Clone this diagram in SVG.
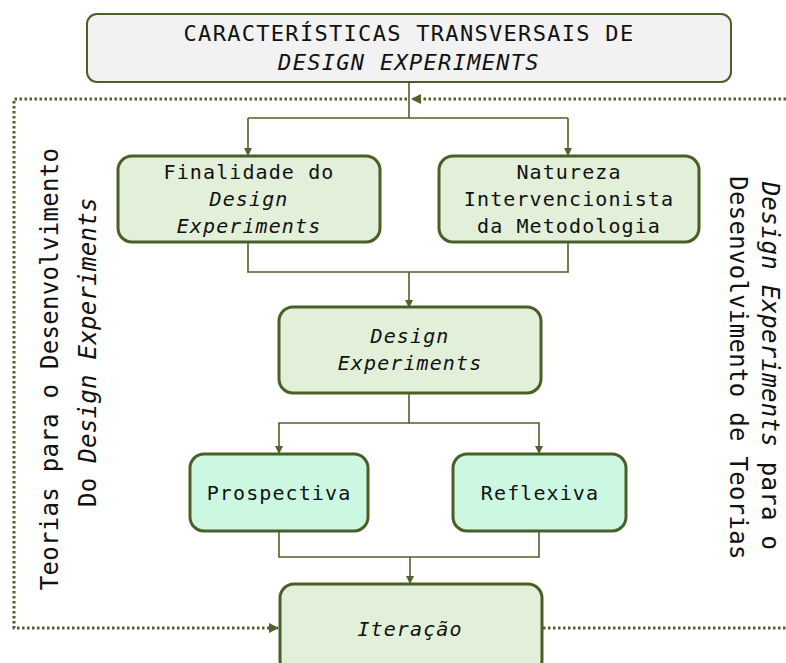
<svg xmlns="http://www.w3.org/2000/svg" width="786" height="663" viewBox="0 0 786 663">
<defs>
<marker id="arr" markerWidth="8" markerHeight="8" refX="7" refY="4" orient="auto" markerUnits="userSpaceOnUse">
<path d="M0,0 L8,4 L0,8 Z" fill="#4f6228"/>
</marker>
<marker id="arrB" markerWidth="10" markerHeight="10" refX="9" refY="5" orient="auto" markerUnits="userSpaceOnUse">
<path d="M0,0 L10,5 L0,10 Z" fill="#4f6228"/>
</marker>
<style>
.box{stroke:#4a5f26;stroke-width:3}
.g{fill:#e2efd9}
.m{fill:#ccf8e2}
.top{fill:#f2f2f2;stroke:#4a5f26;stroke-width:2}
.t{font-family:"DejaVu Sans Mono","Liberation Mono",monospace;font-size:20px;fill:#111;text-anchor:middle;letter-spacing:1.1px}
.tt{font-family:"DejaVu Sans Mono","Liberation Mono",monospace;font-size:22px;fill:#111;text-anchor:middle;letter-spacing:1.3px}
.side{font-family:"DejaVu Sans Mono","Liberation Mono",monospace;font-size:24px;fill:#111;text-anchor:middle;letter-spacing:0.3px}
.i{font-style:italic}
.c{fill:none;stroke:#4f6228;stroke-width:1.6}
.d{fill:none;stroke:#4f6228;stroke-width:3;stroke-dasharray:2.5 2.5}
</style>
</defs>
<g id="connectors">
<path class="c" d="M409,82 V118 M248,118 H568 M248,118 V155" marker-end="url(#arr)"/>
<path class="c" d="M568,118 V155" marker-end="url(#arr)"/>
<path class="c" d="M248,243 V272 H568 V243 M409,272 V307" marker-end="url(#arr)"/>
<path class="c" d="M409,393 V423 H539 V453" marker-end="url(#arr)"/>
<path class="c" d="M409,423 H279 V453" marker-end="url(#arr)"/>
<path class="c" d="M279,532 V557 H539 V532 M410,557 V583" marker-end="url(#arr)"/>
<path class="d" d="M786,99 H412" marker-end="url(#arrB)"/>
<path class="d" d="M407,99 H14 V628 H278" marker-end="url(#arrB)"/>
<path class="d" d="M543,628 H786"/>
</g>
<g id="title">
<rect class="top" x="87" y="14" width="644" height="68" rx="10"/>
<text class="tt" x="409" y="41">CARACTERÍSTICAS TRANSVERSAIS DE</text>
<text class="tt i" x="409" y="70">DESIGN EXPERIMENTS</text>
</g>
<g id="finalidade">
<rect class="box g" x="118" y="156" width="262" height="86" rx="14"/>
<text class="t" x="249" y="179">Finalidade do</text>
<text class="t i" x="249" y="206">Design</text>
<text class="t i" x="249" y="233">Experiments</text>
</g>
<g id="natureza">
<rect class="box g" x="439" y="156" width="260" height="86" rx="14"/>
<text class="t" x="569" y="179">Natureza</text>
<text class="t" x="569" y="206">Intervencionista</text>
<text class="t" x="569" y="233">da Metodologia</text>
</g>
<g id="design">
<rect class="box g" x="279" y="307" width="262" height="86" rx="14"/>
<text class="t i" x="410" y="343">Design</text>
<text class="t i" x="410" y="370">Experiments</text>
</g>
<g id="prospectiva">
<rect class="box m" x="190" y="454" width="178" height="77" rx="14"/>
<text class="t" x="279" y="500">Prospectiva</text>
</g>
<g id="reflexiva">
<rect class="box m" x="453" y="454" width="173" height="77" rx="14"/>
<text class="t" x="540" y="500">Reflexiva</text>
</g>
<g id="iteracao">
<rect class="box g" x="280" y="584" width="262" height="90" rx="14"/>
<text class="t i" x="410" y="636">Iteração</text>
</g>
<g id="left-label">
<text class="side" transform="translate(58,369) rotate(-90)">Teorias para o Desenvolvimento</text>
<text class="side" transform="translate(96,352) rotate(-90)">Do <tspan class="i">Design Experiments</tspan></text>
</g>
<g id="right-label">
<text class="side" transform="translate(762,366) rotate(90)"><tspan class="i">Design Experiments</tspan> para o</text>
<text class="side" transform="translate(730,368) rotate(90)">Desenvolvimento de Teorias</text>
</g>
</svg>
